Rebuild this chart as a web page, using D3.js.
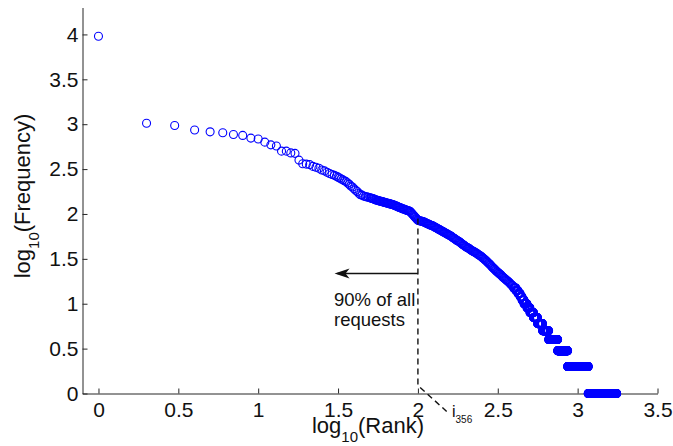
<!DOCTYPE html>
<html>
<head>
<meta charset="utf-8">
<script src="https://cdn.jsdelivr.net/npm/d3@7"></script>
<style>
  html, body { margin: 0; padding: 0; background: #fff; }
  svg { display: block; font-family: "Liberation Sans", Arial, Helvetica, sans-serif; }
</style>
</head>
<body>
<svg id="chart" width="673" height="446"></svg>
<script>
// head of the ranking: one reading per rank (log10 of frequency)
const headRanks = [1, 2, 3, 4, 5, 6, 7, 8, 9, 10, 11, 12, 13, 14, 15,
  16, 17, 18, 19, 20, 21, 22, 23, 24, 25, 26, 27, 28, 29, 30];
const headLogFreq = [3.98, 3.01, 2.985, 2.935, 2.915, 2.905, 2.885, 2.875, 2.845, 2.835,
  2.80, 2.77, 2.757, 2.70, 2.70, 2.68, 2.675, 2.60, 2.56, 2.555,
  2.55, 2.53, 2.52, 2.51, 2.49, 2.48, 2.465, 2.45, 2.44, 2.43];

// middle part, read along the band (log10 rank -> log10 frequency)
const midLogRank = [
  1.49, 1.50, 1.51, 1.52, 1.53, 1.54, 1.55, 1.56, 1.57, 1.58, 1.59,
  1.60, 1.61, 1.62, 1.63, 1.64, 1.65, 1.66, 1.67, 1.68, 1.69,
  1.700, 1.705, 1.710, 1.715, 1.720, 1.725, 1.730, 1.735, 1.740, 1.745,
  1.750, 1.755, 1.760, 1.765, 1.770, 1.775, 1.780, 1.785, 1.790, 1.795,
  1.800, 1.805, 1.810, 1.815, 1.820, 1.825, 1.830, 1.835, 1.840, 1.845,
  1.850, 1.855, 1.860, 1.865, 1.870, 1.875, 1.880, 1.885, 1.890, 1.895,
  1.900, 1.905, 1.910, 1.915, 1.920, 1.925, 1.930, 1.935, 1.940, 1.945,
  1.950, 1.955, 1.960, 1.965, 1.970, 1.975, 1.980, 1.985, 1.990, 1.995,
  2.000, 2.005, 2.010, 2.015, 2.020, 2.025, 2.030, 2.035, 2.040, 2.045,
  2.050, 2.055, 2.060, 2.065, 2.070, 2.075, 2.080, 2.085, 2.090, 2.095,
  2.100, 2.105, 2.110, 2.115, 2.120, 2.125, 2.130, 2.135, 2.140, 2.145,
  2.150, 2.155, 2.160, 2.165, 2.170, 2.175, 2.180, 2.185, 2.190, 2.195,
  2.200, 2.205, 2.210, 2.215, 2.220, 2.225, 2.230, 2.235, 2.240, 2.245,
  2.250, 2.255, 2.260, 2.265, 2.270, 2.275, 2.280, 2.285, 2.290, 2.295,
  2.300, 2.305, 2.310, 2.315, 2.320, 2.325, 2.330, 2.335, 2.340, 2.345,
  2.350, 2.355, 2.360, 2.365, 2.370, 2.375, 2.380, 2.385, 2.390, 2.395,
  2.400, 2.405, 2.410, 2.415, 2.420, 2.425, 2.430, 2.435, 2.440, 2.445,
  2.450, 2.455, 2.460, 2.465, 2.470, 2.475, 2.480, 2.485, 2.490, 2.495,
  2.500, 2.505, 2.510, 2.515, 2.520, 2.525, 2.530, 2.535, 2.540, 2.545,
  2.550, 2.555, 2.560, 2.565, 2.570, 2.575, 2.580, 2.585, 2.590, 2.595];
const midLogFreq = [
  2.42, 2.41, 2.40, 2.39, 2.38, 2.37, 2.36, 2.345, 2.33, 2.31, 2.30,
  2.28, 2.265, 2.25, 2.23, 2.215, 2.21, 2.20, 2.195, 2.19, 2.185,
  2.180, 2.178, 2.175, 2.172, 2.170, 2.165, 2.160, 2.158, 2.155, 2.152,
  2.150, 2.148, 2.145, 2.142, 2.140, 2.138, 2.135, 2.132, 2.130, 2.128,
  2.125, 2.122, 2.120, 2.118, 2.115, 2.112, 2.110, 2.108, 2.105, 2.102,
  2.100, 2.095, 2.090, 2.088, 2.085, 2.080, 2.075, 2.072, 2.070, 2.065,
  2.060, 2.058, 2.055, 2.052, 2.050, 2.045, 2.040, 2.038, 2.035, 2.032,
  2.030, 2.020, 2.010, 2.000, 1.990, 1.980, 1.970, 1.960, 1.950, 1.940,
  1.930, 1.928, 1.925, 1.922, 1.920, 1.918, 1.915, 1.912, 1.910, 1.905,
  1.900, 1.895, 1.890, 1.888, 1.885, 1.880, 1.875, 1.872, 1.870, 1.865,
  1.860, 1.855, 1.850, 1.845, 1.840, 1.835, 1.830, 1.825, 1.820, 1.815,
  1.810, 1.805, 1.800, 1.795, 1.790, 1.785, 1.780, 1.775, 1.770, 1.765,
  1.760, 1.755, 1.750, 1.742, 1.735, 1.730, 1.725, 1.718, 1.710, 1.705,
  1.700, 1.695, 1.690, 1.682, 1.675, 1.668, 1.660, 1.655, 1.650, 1.642,
  1.635, 1.630, 1.625, 1.620, 1.615, 1.608, 1.600, 1.595, 1.590, 1.585,
  1.580, 1.575, 1.570, 1.565, 1.560, 1.552, 1.545, 1.540, 1.535, 1.528,
  1.520, 1.512, 1.505, 1.498, 1.490, 1.482, 1.475, 1.465, 1.455, 1.448,
  1.440, 1.430, 1.420, 1.410, 1.400, 1.392, 1.385, 1.375, 1.365, 1.358,
  1.350, 1.342, 1.335, 1.328, 1.320, 1.310, 1.300, 1.292, 1.285, 1.278,
  1.270, 1.262, 1.255, 1.248, 1.240, 1.230, 1.220, 1.212, 1.205, 1.198];

// tail: integer frequencies shared by a run of ranks
const tailFreq      = [15, 14, 13, 12, 11, 10, 9, 8, 7, 6, 5, 4, 3, 2, 1];
const tailFirstRank = [398, 411, 424, 437, 449, 462, 482, 503, 530, 562, 604, 659, 750, 866, 1165];
const tailLastRank  = [410, 423, 436, 448, 461, 481, 502, 529, 561, 603, 658, 749, 865, 1164, 1754];

const xTicks = [0, 0.5, 1, 1.5, 2, 2.5, 3, 3.5];
const yTicks = [0, 0.5, 1, 1.5, 2, 2.5, 3, 3.5, 4];

// annotation (data coordinates)
const cutLogRank = 2.0;
const dropX = [2.0, 2.0, 2.18];
const dropY = [1.95, 0.09, -0.2];
const arrowY = 1.336, arrowTo = 1.478;

// build points
const points = [];
headRanks.forEach((r, i) => points.push({ x: Math.log10(r), y: headLogFreq[i] }));
midLogRank.forEach((lr, i) => points.push({ x: lr, y: midLogFreq[i] }));
tailFreq.forEach((f, i) => {
  for (let r = tailFirstRank[i]; r <= tailLastRank[i]; r++) {
    points.push({ x: Math.log10(r), y: Math.log10(f) });
  }
});

const svg = d3.select("#chart");
const axisColor = "#262626";

const x = d3.scaleLinear().domain([-0.1, 3.5]).range([82.5, 657.5]);
const y = d3.scaleLinear().domain([0, 4.3]).range([393.5, 7.5]);

// axes (MATLAB style: ticks pointing inward, no box)
const gx = svg.append("g")
  .attr("transform", `translate(0,${y(0)})`)
  .call(d3.axisBottom(x).tickValues(xTicks).tickFormat(d3.format("~g"))
    .tickSizeInner(-5).tickSizeOuter(0).tickPadding(9));
const gy = svg.append("g")
  .attr("transform", `translate(${x(-0.1)},0)`)
  .call(d3.axisLeft(y).tickValues(yTicks).tickFormat(d3.format("~g"))
    .tickSizeInner(-5).tickSizeOuter(0).tickPadding(4));

[gx, gy].forEach(g => {
  g.attr("font-family", null).attr("font-size", 21);
  g.selectAll("path, line").attr("stroke", axisColor).attr("stroke-width", 1);
  g.selectAll("text").attr("fill", "#111");
});

// points
svg.append("g")
  .selectAll("circle")
  .data(points)
  .join("circle")
  .attr("cx", d => x(d.x))
  .attr("cy", d => y(d.y))
  .attr("r", 4)
  .attr("fill", "none")
  .attr("stroke", "#0000ff")
  .attr("stroke-width", 1.1);

// dashed drop line at the 90% cut
const line = d3.line().x(d => x(d[0])).y(d => y(d[1]));
svg.append("path")
  .attr("d", line(dropX.map((v, i) => [v, dropY[i]])))
  .attr("fill", "none")
  .attr("stroke", "#111")
  .attr("stroke-width", 1.4)
  .attr("stroke-dasharray", "6,4");

// arrow pointing left
const ay = y(arrowY), ax0 = x(cutLogRank), ax1 = x(arrowTo);
svg.append("line")
  .attr("x1", ax0).attr("y1", ay).attr("x2", ax1 + 3).attr("y2", ay)
  .attr("stroke", "#111").attr("stroke-width", 1.5);
svg.append("path")
  .attr("d", `M${ax1},${ay} L${ax1 + 15},${ay - 5} L${ax1 + 11},${ay} L${ax1 + 15},${ay + 5} Z`)
  .attr("fill", "#111");

svg.append("text").attr("x", 334).attr("y", 306).attr("font-size", 18.5).attr("fill", "#111")
  .text("90% of all");
svg.append("text").attr("x", 334).attr("y", 326).attr("font-size", 18.5).attr("fill", "#111")
  .text("requests");

// i_356 label
const il = svg.append("text").attr("x", 452).attr("y", 416.5).attr("font-size", 16).attr("fill", "#111");
il.append("tspan").text("i");
il.append("tspan").attr("font-size", 10).attr("dy", 6).text("356");

// axis labels
const xl = svg.append("text").attr("x", 368).attr("y", 432.5).attr("text-anchor", "middle")
  .attr("font-size", 22).attr("fill", "#111");
xl.append("tspan").text("log");
xl.append("tspan").attr("font-size", 15).attr("dy", 9).text("10");
xl.append("tspan").attr("dy", -9).text("(Rank)");

const yl = svg.append("text").attr("transform", "translate(30,196) rotate(-90)")
  .attr("text-anchor", "middle").attr("font-size", 22).attr("fill", "#111");
yl.append("tspan").text("log");
yl.append("tspan").attr("font-size", 15).attr("dy", 9).text("10");
yl.append("tspan").attr("dy", -9).text("(Frequency)");
</script>
</body>
</html>
